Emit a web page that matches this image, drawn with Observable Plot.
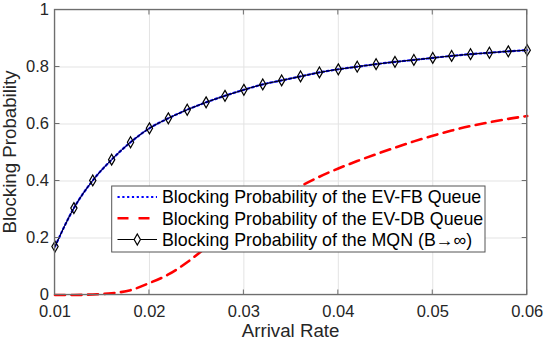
<!DOCTYPE html>
<html><head><meta charset="utf-8">
<script src="https://cdn.jsdelivr.net/npm/d3@7"></script>
<script src="https://cdn.jsdelivr.net/npm/@observablehq/plot@0.6"></script>
<style>body{margin:0;background:#fff}</style>
</head><body><div id="chart"></div>
<script>
const arrivalRate = [0.010,0.012,0.014,0.016,0.018,0.020,0.022,0.024,0.026,0.028,0.030,0.032,0.034,0.036,0.038,0.040,0.042,0.044,0.046,0.048,0.050,0.052,0.054,0.056,0.058,0.060];
const fbProb  = [0.170,0.305,0.402,0.475,0.536,0.585,0.620,0.650,0.676,0.699,0.720,0.739,0.753,0.767,0.781,0.792,0.801,0.810,0.818,0.825,0.832,0.839,0.845,0.850,0.855,0.859];
const dbProb  = [0.000,0.000,0.002,0.006,0.017,0.042,0.072,0.115,0.167,0.216,0.263,0.306,0.346,0.382,0.415,0.444,0.470,0.494,0.517,0.539,0.559,0.577,0.593,0.606,0.618,0.628];
const mqnProb = [0.170,0.305,0.402,0.475,0.536,0.585,0.620,0.650,0.676,0.699,0.720,0.739,0.753,0.767,0.781,0.792,0.801,0.810,0.818,0.825,0.832,0.839,0.845,0.850,0.855,0.859];
const xTicks = [0.01,0.02,0.03,0.04,0.05,0.06];
const xTickLabels = ["0.01","0.02","0.03","0.04","0.05","0.06"];
const yTicks = [0,0.2,0.4,0.6,0.8,1];
const yTickLabels = ["0","0.2","0.4","0.6","0.8","1"];
const xLabel = "Arrival Rate";
const yLabel = "Blocking Probability";
const legendLabels = [
  "Blocking Probability of the EV-FB Queue",
  "Blocking Probability of the EV-DB Queue",
  "Blocking Probability of the MQN (B\u2192\u221E)"
];

const font = "'Liberation Sans', Arial, Helvetica, sans-serif";
const fb = arrivalRate.map((x,i)=>({x, y: fbProb[i]}));
const db = arrivalRate.map((x,i)=>({x, y: dbProb[i]}));
const mqn = arrivalRate.map((x,i)=>({x, y: mqnProb[i]}));

const W = 545, H = 342;
const mL = 54.5, mR = 18.3, mT = 9.5, mB = 47.5;

const chart = Plot.plot({
  width: W, height: H,
  marginLeft: mL, marginRight: mR, marginTop: mT, marginBottom: mB,
  style: {fontFamily: font, fontSize: "16.5px", color: "#262626", background: "white", overflow: "visible"},
  x: {domain: [0.01, 0.06], label: null},
  y: {domain: [0, 1], label: null},
  marks: [
    Plot.gridX(xTicks, {stroke: "#e3e3e3", strokeOpacity: 1}),
    Plot.gridY(yTicks, {stroke: "#e3e3e3", strokeOpacity: 1}),
    Plot.axisX(xTicks, {tickSize: 0, tickPadding: 10, fontSize: 16.5, fill: "#262626",
      tickFormat: d => xTickLabels[xTicks.indexOf(d)]}),
    Plot.axisY(yTicks, {tickSize: 0, tickPadding: 6, fontSize: 16.5, fill: "#262626",
      tickFormat: d => yTickLabels[yTicks.indexOf(d)]}),
    Plot.line(fb, {x: "x", y: "y", stroke: "#0000ff", strokeWidth: 2.2, strokeDasharray: "2.2,2.6", curve: "monotone-x"}),
    Plot.line(db, {x: "x", y: "y", stroke: "#ff0000", strokeWidth: 2.6, strokeDasharray: "10,6.5", curve: "monotone-x"}),
    Plot.line(mqn, {x: "x", y: "y", stroke: "#000000", strokeWidth: 1, curve: "monotone-x"}),
    Plot.dot(mqn, {x: "x", y: "y", symbol: "diamond", r: 3.3, fill: "none", stroke: "#000", strokeWidth: 1.2})
  ]
});

document.getElementById("chart").appendChild(chart);

const svg = d3.select(chart);
const sx = chart.scale("x"), sy = chart.scale("y");
const x0 = sx.apply(0.01), x1 = sx.apply(0.06), y0 = sy.apply(0), y1 = sy.apply(1);
const ax = svg.append("g").attr("stroke", "#6e6e6e").attr("stroke-width", 1).attr("fill", "none");
// inward ticks on all four sides
xTicks.forEach(t => {
  const px = sx.apply(t);
  ax.append("line").attr("x1", px).attr("x2", px).attr("y1", y0).attr("y2", y0 - 5);
  ax.append("line").attr("x1", px).attr("x2", px).attr("y1", y1).attr("y2", y1 + 5);
});
yTicks.forEach(t => {
  const py = sy.apply(t);
  ax.append("line").attr("x1", x0).attr("x2", x0 + 5).attr("y1", py).attr("y2", py);
  ax.append("line").attr("x1", x1).attr("x2", x1 - 5).attr("y1", py).attr("y2", py);
});
ax.append("rect").attr("x", x0).attr("y", y1).attr("width", x1 - x0).attr("height", y0 - y1).attr("stroke-width", 1.3);

// axis labels
svg.append("text").attr("x", (x0 + x1) / 2).attr("y", 336.5).attr("text-anchor", "middle")
  .attr("font-family", font).attr("font-size", 18.7).attr("fill", "#262626").text(xLabel);
svg.append("text").attr("transform", `translate(15.5,${(y0 + y1) / 2}) rotate(-90)`).attr("text-anchor", "middle")
  .attr("font-family", font).attr("font-size", 18.7).attr("fill", "#262626").text(yLabel);

// legend
const lg = svg.append("g").attr("font-family", font).attr("font-size", 17.8).attr("fill", "#000").attr("text-anchor", "start");
lg.append("rect").attr("x", 111.7).attr("y", 186).attr("width", 373.3).attr("height", 66)
  .attr("fill", "white").attr("stroke", "#555").attr("stroke-width", 1);
const rowsY = [197, 218.3, 239.5];
const styles = [
  {stroke: "#0000ff", w: 2.2, dash: "2.2,2.6"},
  {stroke: "#ff0000", w: 2.6, dash: "11,10"},
  {stroke: "#000000", w: 1, dash: null}
];
rowsY.forEach((ry, i) => {
  const s = styles[i];
  const l = lg.append("line").attr("x1", 117.5).attr("x2", 157).attr("y1", ry).attr("y2", ry)
    .attr("stroke", s.stroke).attr("stroke-width", s.w);
  if (s.dash) l.attr("stroke-dasharray", s.dash);
  lg.append("text").attr("x", 162).attr("y", ry).attr("dy", "0.35em").attr("text-anchor", "start").text(legendLabels[i]);
});
lg.append("path").attr("d", d3.symbol(d3.symbolDiamond, Math.PI * 3.3 * 3.3)())
  .attr("transform", `translate(137.3,${rowsY[2]})`).attr("fill", "white").attr("stroke", "#000").attr("stroke-width", 1.2);
</script>
</body></html>
